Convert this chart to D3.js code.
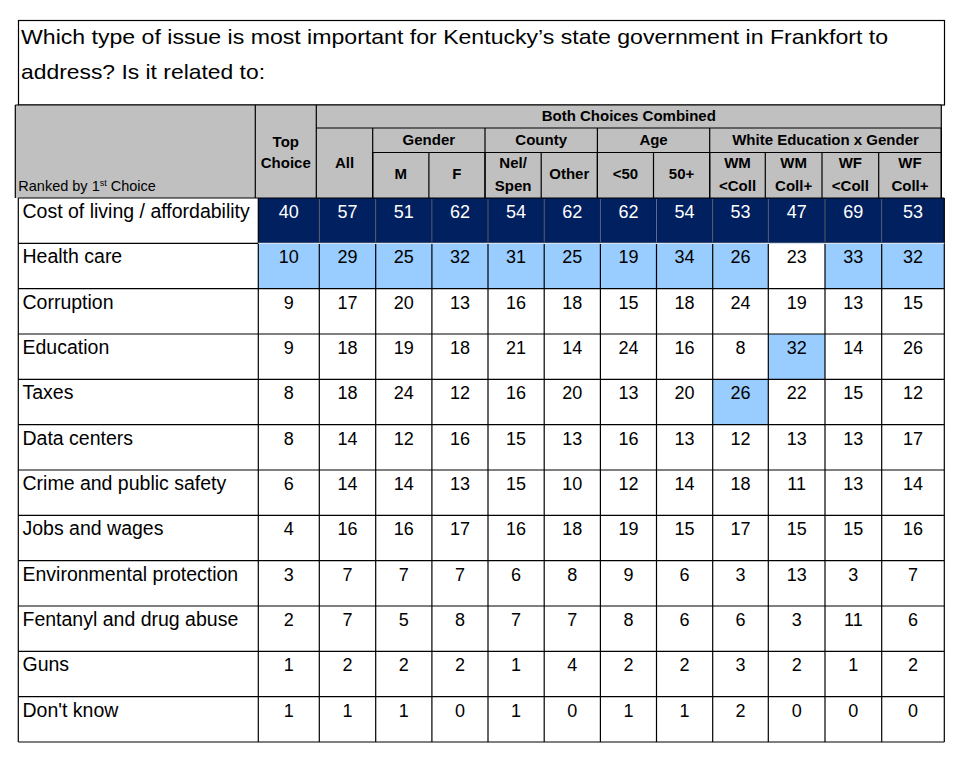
<!DOCTYPE html>
<html>
<head>
<meta charset="utf-8">
<script src="https://cdn.jsdelivr.net/npm/d3@7"></script>
<style>
  body { margin: 0; background: #fff; }
  svg text { font-family: "Liberation Sans", Arial, sans-serif; }
</style>
</head>
<body>
<div id="chart"></div>
<script>
// Data
var issues = ["Cost of living / affordability", "Health care", "Corruption", "Education", "Taxes",
    "Data centers", "Crime and public safety", "Jobs and wages", "Environmental protection",
    "Fentanyl and drug abuse", "Guns", "Don't know"];

var topChoice   = [40, 10, 9, 9, 8, 8, 6, 4, 3, 2, 1, 1];
var allVoters   = [57, 29, 17, 18, 18, 14, 14, 16, 7, 7, 2, 1];
var male        = [51, 25, 20, 19, 24, 12, 14, 16, 7, 5, 2, 1];
var female      = [62, 32, 13, 18, 12, 16, 13, 17, 7, 8, 2, 0];
var nelSpen     = [54, 31, 16, 21, 16, 15, 15, 16, 6, 7, 1, 1];
var otherCounty = [62, 25, 18, 14, 20, 13, 10, 18, 8, 7, 4, 0];
var under50     = [62, 19, 15, 24, 13, 16, 12, 19, 9, 8, 2, 1];
var over50      = [54, 34, 18, 16, 20, 13, 14, 15, 6, 6, 2, 1];
var wmNoColl    = [53, 26, 24, 8, 26, 12, 18, 17, 3, 6, 3, 2];
var wmColl      = [47, 23, 19, 32, 22, 13, 11, 15, 13, 3, 2, 0];
var wfNoColl    = [69, 33, 13, 14, 15, 13, 13, 15, 3, 11, 1, 0];
var wfColl      = [53, 32, 15, 26, 12, 17, 14, 16, 7, 6, 2, 0];

var columnKeys = ["top", "all", "m", "f", "nel", "other", "u50", "o50", "wmnc", "wmc", "wfnc", "wfc"];
var series = [topChoice, allVoters, male, female, nelSpen, otherCounty, under50, over50,
    wmNoColl, wmColl, wfNoColl, wfColl];

// Sub headers (bottom header row)
var subLabels = [["M"], ["F"], ["Nel/", "Spen"], ["Other"], ["<50"], ["50+"],
    ["WM", "<Coll"], ["WM", "Coll+"], ["WF", "<Coll"], ["WF", "Coll+"]];
// Group headers: [label, first column, last column]
var groups = [["Gender", "m", "f"], ["County", "nel", "other"], ["Age", "u50", "o50"],
    ["White Education x Gender", "wmnc", "wfc"]];

// Highlighted cells: first choice row is dark, these are light
var darkRows = ["Cost of living / affordability"];
var lightCells = [["Health care", "top"], ["Health care", "all"], ["Health care", "m"], ["Health care", "f"],
    ["Health care", "nel"], ["Health care", "other"], ["Health care", "u50"], ["Health care", "o50"],
    ["Health care", "wmnc"], ["Health care", "wfnc"], ["Health care", "wfc"],
    ["Education", "wmc"], ["Taxes", "wmnc"]];

var titleLines = ["Which type of issue is most important for Kentucky\u2019s state government in Frankfort to",
    "address? Is it related to:"];

// Sizing
var width = 979;
var height = 771;
var dark = "#002060";
var light = "#99CCFF";
var gray = "#C0C0C0";

var svg = d3.select("#chart").append("svg")
    .attr("width", width)
    .attr("height", height);

// Column edges (data area); header is drawn 3px further left as in the original
var colEdges = [258.3, 319.3, 375.7, 431.9, 488.0, 544.2, 600.4, 656.5, 712.7, 768.3, 825, 881.7, 944.3];
var labelLeft = 18.3;
var xLeft = d3.scaleOrdinal().domain(columnKeys).range(colEdges.slice(0, 12));
var xRight = d3.scaleOrdinal().domain(columnKeys).range(colEdges.slice(1));
var y = d3.scaleBand().domain(issues).range([198, 742]);
var hdx = -3;

// Title box
svg.append("rect").attr("x", 18.5).attr("y", 20.5).attr("width", 926).attr("height", 84.5)
    .attr("fill", "#fff").attr("stroke", "#000").attr("stroke-width", 1.2);
svg.selectAll(".title").data(titleLines).enter().append("text")
    .attr("x", 21).attr("y", (d, i) => 43.5 + i * 35)
    .attr("font-size", 21).attr("fill", "#000")
    .attr("textLength", (d, i) => i === 0 ? 867 : 244)
    .attr("lengthAdjust", "spacingAndGlyphs")
    .text(d => d);

// Header
var hTop = 105, hRow1 = 128, hRow2 = 152.5, hBot = 198;
var hLeft = labelLeft + hdx, hRight = 944.3 + hdx;
var header = svg.append("g");
header.append("rect").attr("x", hLeft).attr("y", hTop).attr("width", hRight - hLeft).attr("height", hBot - hTop)
    .attr("fill", gray);

function hline(x1, x2, yy) {
    header.append("line").attr("x1", x1).attr("x2", x2).attr("y1", yy).attr("y2", yy)
        .attr("stroke", "#000").attr("stroke-width", 1.2);
}
function vline(xx, y1, y2) {
    header.append("line").attr("x1", xx).attr("x2", xx).attr("y1", y1).attr("y2", y2)
        .attr("stroke", "#000").attr("stroke-width", 1.2);
}
hline(hLeft, hRight, hTop);
hline(xLeft("all") + hdx, hRight, hRow1);
hline(xLeft("m") + hdx, hRight, hRow2);
vline(hLeft, hTop, hBot);
vline(hRight, hTop, hBot);
vline(xLeft("top") + hdx, hTop, hBot);
vline(xLeft("all") + hdx, hTop, hBot);
vline(xLeft("m") + hdx, hRow1, hBot);
groups.forEach(function (g) {
    vline(xRight(g[2]) + hdx, hRow1, hBot);
});
columnKeys.slice(2).forEach(function (k) {
    vline(xLeft(k) + hdx, hRow2, hBot);
});

function boldText(txt, cx, by, size) {
    header.append("text").attr("x", cx).attr("y", by).attr("text-anchor", "middle")
        .attr("font-size", size || 15).attr("font-weight", "bold").attr("fill", "#000").text(txt);
}
var mid = k => (xLeft(k) + xRight(k)) / 2 + hdx;

boldText("Both Choices Combined", (xLeft("all") + hRight - hdx) / 2 + hdx, 120.5, 15);
boldText("Top", mid("top"), 146.5);
boldText("Choice", mid("top"), 168);
boldText("All", mid("all"), 167.5);
groups.forEach(function (g) {
    boldText(g[0], (xLeft(g[1]) + xRight(g[2])) / 2 + hdx, 144.5);
});
columnKeys.slice(2).forEach(function (k, i) {
    var lines = subLabels[i];
    if (lines.length === 1) {
        boldText(lines[0], mid(k), 178.5);
    } else {
        boldText(lines[0], mid(k), 168);
        boldText(lines[1], mid(k), 190.5);
    }
});

var ranked = header.append("text").attr("x", hLeft + 3).attr("y", 190.5)
    .attr("font-size", 14.5).attr("fill", "#000");
ranked.append("tspan").text("Ranked by 1");
ranked.append("tspan").attr("font-size", 9).attr("dy", -5).text("st");
ranked.append("tspan").attr("dy", 5).text(" Choice");

// Body cells
var cells = [];
issues.forEach(function (issue, r) {
    columnKeys.forEach(function (k, c) {
        var fill = "#fff";
        if (darkRows.indexOf(issue) >= 0) fill = dark;
        else if (lightCells.some(p => p[0] === issue && p[1] === k)) fill = light;
        cells.push({ issue: issue, key: k, value: series[c][r], fill: fill });
    });
});

var body = svg.append("g");
body.selectAll(".cell").data(cells).enter().append("rect")
    .attr("x", d => xLeft(d.key))
    .attr("y", d => y(d.issue))
    .attr("width", d => xRight(d.key) - xLeft(d.key))
    .attr("height", y.bandwidth())
    .attr("fill", d => d.fill);

// Grid lines
var grid = svg.append("g").attr("stroke", "#000").attr("stroke-width", 1.2);
grid.selectAll(".hl").data(issues.concat(["end"])).enter().append("line")
    .attr("x1", labelLeft).attr("x2", 944.3)
    .attr("y1", (d, i) => i < issues.length ? y(d) : y.range()[1])
    .attr("y2", (d, i) => i < issues.length ? y(d) : y.range()[1]);
grid.selectAll(".vl").data([labelLeft].concat(colEdges)).enter().append("line")
    .attr("x1", d => d).attr("x2", d => d)
    .attr("y1", 198).attr("y2", 742);

// lighter separators inside the dark row
var darkTop = y(darkRows[0]);
svg.append("g").selectAll("line").data(colEdges.slice(1, 12)).enter().append("line")
    .attr("x1", d => d).attr("x2", d => d)
    .attr("y1", darkTop + 1).attr("y2", darkTop + y.bandwidth() - 1)
    .attr("stroke", "#5a6d99").attr("stroke-width", 1);
svg.append("line").attr("x1", xLeft("top")).attr("x2", 944.3)
    .attr("y1", darkTop + y.bandwidth()).attr("y2", darkTop + y.bandwidth())
    .attr("stroke", "#d8e2f0").attr("stroke-width", 1.2);

// Labels
body.selectAll(".lbl").data(issues).enter().append("text")
    .attr("x", 22.5).attr("y", d => y(d) + 20)
    .attr("font-size", 19.5).attr("fill", "#000")
    .text(d => d);

// Values
body.selectAll(".val").data(cells).enter().append("text")
    .attr("x", d => (xLeft(d.key) + xRight(d.key)) / 2)
    .attr("y", d => y(d.issue) + 20)
    .attr("text-anchor", "middle")
    .attr("font-size", 18)
    .attr("fill", d => d.fill === dark ? "#fff" : "#000")
    .text(d => d.value);
</script>
</body>
</html>
